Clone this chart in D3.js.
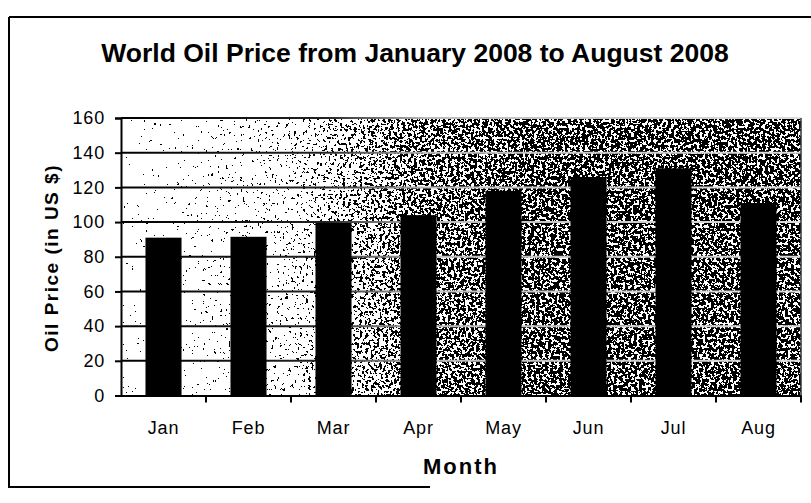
<!DOCTYPE html>
<html><head><meta charset="utf-8">
<script src="https://cdn.jsdelivr.net/npm/d3@7"></script>
<style>body{margin:0;background:#fff}svg{display:block}text{font-family:"Liberation Sans",Arial,sans-serif;fill:#000}</style>
</head><body><svg id="c" width="811" height="503"></svg>
<script>
const months = ["Jan","Feb","Mar","Apr","May","Jun","Jul","Aug"];
const prices = [91, 91.5, 99.5, 104, 118, 126, 131, 111];
const yTicks = [0,20,40,60,80,100,120,140,160];
const title = "World Oil Price from January 2008 to August 2008";
const xTitle = "Month";
const yTitle = "Oil Price (in US $)";

const svg = d3.select("#c");
const L=121,R=801,T=118,B=395.5;
const x = d3.scaleBand().domain(months).range([L,R]).paddingInner(0.576).paddingOuter(0.288);
const xb = d3.scaleBand().domain(months).range([L,R]);
const y = d3.scaleLinear().domain([0,160]).range([B,T]);

const defs = svg.append("defs");
const g1 = defs.append("linearGradient").attr("id","bg").attr("gradientUnits","userSpaceOnUse")
  .attr("x1",L).attr("x2",R).attr("y1",0).attr("y2",0);
[[0,0.98],[0.25,0.9],[0.42,0.74],[0.6,0.69],[1,0.69]].forEach(([o,v])=>{
  const c=Math.round(v*255); g1.append("stop").attr("offset",o).attr("stop-color",`rgb(${c},${c},${c})`);});
const g2 = defs.append("linearGradient").attr("id","gl").attr("gradientUnits","userSpaceOnUse")
  .attr("x1",L).attr("x2",R).attr("y1",0).attr("y2",0);
[[0,"#000"],[0.3,"#222"],[0.45,"#bbb"],[1,"#ddd"]].forEach(([o,c])=>g2.append("stop").attr("offset",o).attr("stop-color",c));
const f = defs.append("filter").attr("id","noise").attr("x",0).attr("y",0).attr("width",1).attr("height",1);
f.append("feTurbulence").attr("type","fractalNoise").attr("baseFrequency","0.35").attr("numOctaves",3).attr("seed",3).attr("result","n");
f.append("feColorMatrix").attr("in","n").attr("type","matrix")
  .attr("values","1 0 0 0 0  1 0 0 0 0  1 0 0 0 0  0 0 0 0 1").attr("result","ng");
f.append("feComposite").attr("in","SourceGraphic").attr("in2","ng").attr("operator","arithmetic")
  .attr("k1",0).attr("k2",1).attr("k3",1.6).attr("k4",-0.8).attr("result","s");
const ct = f.append("feComponentTransfer").attr("in","s");
["R","G","B"].forEach(ch=>ct.append("feFunc"+ch).attr("type","discrete").attr("tableValues","0 1"));
ct.append("feFuncA").attr("type","linear").attr("slope",0).attr("intercept",1);

// frame
svg.append("path").attr("d","M9,17 H811 M9,17 V487 H430").attr("fill","none").attr("stroke","#000").attr("stroke-width",2);

// plot background
svg.append("rect").attr("x",L).attr("y",T).attr("width",R-L).attr("height",B-T)
  .attr("fill","url(#bg)").attr("filter","url(#noise)");

// gridlines
svg.append("g").selectAll("line").data(yTicks.slice(1)).join("line")
  .attr("x1",L).attr("x2",R).attr("y1",d=>y(d)).attr("y2",d=>y(d))
  .attr("stroke","url(#gl)").attr("stroke-width",2);
svg.append("line").attr("x1",R).attr("x2",R).attr("y1",T).attr("y2",B).attr("stroke","#333").attr("stroke-width",1.5);

// bars
svg.append("g").selectAll("rect").data(months).join("rect")
  .attr("x",d=>x(d)).attr("width",x.bandwidth())
  .attr("y",(d,i)=>y(prices[i])).attr("height",(d,i)=>B-y(prices[i]))
  .attr("fill","#000");

// y axis
const ya = svg.append("g").attr("transform",`translate(${L},0)`)
  .call(d3.axisLeft(y).tickValues(yTicks).tickSize(6).tickPadding(10));
ya.attr("font-size",null).attr("font-family",null);
ya.selectAll("text").style("font-size","18px").style("letter-spacing","0.8px");
ya.selectAll("line,path").attr("stroke","#000").attr("stroke-width",2);

// x axis
const xa = svg.append("g").attr("transform",`translate(0,${B})`)
  .call(d3.axisBottom(xb).tickValues([]).tickSizeOuter(0));
xa.select("path").attr("stroke","#000").attr("stroke-width",2);
svg.append("g").selectAll("line").data(months.slice(1).concat(["__end"])).join("line")
  .attr("x1",(d,i)=>i<months.length-1?xb(d):R).attr("x2",(d,i)=>i<months.length-1?xb(d):R)
  .attr("y1",B).attr("y2",B+7).attr("stroke","#000").attr("stroke-width",2);
svg.append("g").selectAll("text").data(months).join("text")
  .attr("x",d=>xb(d)+xb.bandwidth()/2).attr("y",434).attr("text-anchor","middle")
  .style("font-size","18px").style("letter-spacing","0.8px").text(d=>d);

// titles
svg.append("text").attr("x",415).attr("y",62).attr("text-anchor","middle")
  .style("font-size","26.5px").style("font-weight","bold").text(title);
svg.append("text").attr("x",461).attr("y",474).attr("text-anchor","middle")
  .style("font-size","22px").style("font-weight","bold").style("letter-spacing","2px").text(xTitle);
svg.append("text").attr("transform","translate(58,258) rotate(-90)").attr("text-anchor","middle")
  .style("font-size","19px").style("font-weight","bold").style("letter-spacing","1.5px").text(yTitle);
</script></body></html>
